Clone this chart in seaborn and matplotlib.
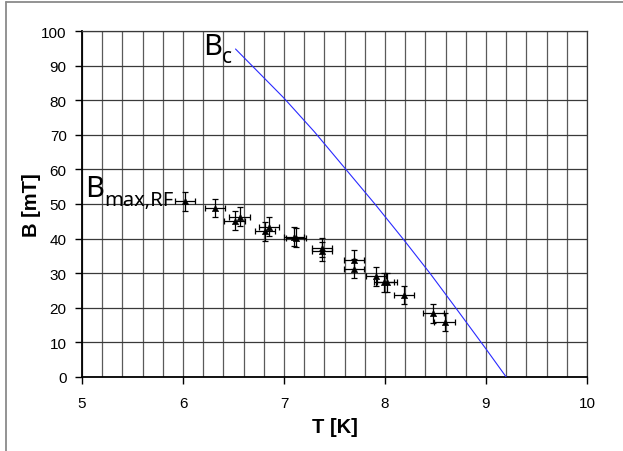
import matplotlib
matplotlib.use("Agg")
import matplotlib.pyplot as plt
import seaborn as sns
import pandas as pd
from matplotlib.lines import Line2D
from matplotlib.ticker import MultipleLocator

# ---- data ----
T_meas = [6.02, 6.32, 6.51, 6.56, 6.81, 6.85, 7.10, 7.12, 7.38, 7.38,
          7.69, 7.69, 7.91, 7.99, 8.02, 8.19, 8.48, 8.59]
B_meas = [50.8, 48.8, 45.2, 46.3, 42.1, 43.4, 40.6, 40.3, 37.4, 36.3,
          33.9, 31.3, 29.1, 27.4, 27.4, 23.7, 18.4, 15.9]
T_err = [0.1] * len(T_meas)
B_err = [2.7] * len(B_meas)

T_bc = [6.52, 7.00, 7.30, 7.59, 7.90, 8.19, 8.45, 8.71, 9.00, 9.20]
B_bc = [94.8, 80.6, 70.9, 60.8, 50.0, 39.5, 29.8, 19.6, 8.1, 0.0]

x_ticks = [5, 6, 7, 8, 9, 10]
y_ticks = [0, 10, 20, 30, 40, 50, 60, 70, 80, 90, 100]

sns.set_theme(style="white")
plt.rcParams['font.family'] = ['Liberation Sans', 'DejaVu Sans']
plt.rcParams['text.color'] = 'black'
plt.rcParams['axes.labelcolor'] = 'black'

fig = plt.figure(figsize=(6.23, 4.52), dpi=100)
ax = fig.add_axes([82/623, 1-378/452, (587-82)/623, (378-32)/452])

ax.set_xlim(5, 10)
ax.set_ylim(0, 100)

# grid
ax.xaxis.set_major_locator(MultipleLocator(1))
ax.xaxis.set_minor_locator(MultipleLocator(0.2))
ax.yaxis.set_major_locator(MultipleLocator(10))
ax.grid(which='both', axis='x', color='#5a5a5a', lw=0.9)
ax.grid(which='major', axis='y', color='#3a3a3a', lw=0.9)
ax.set_axisbelow(True)

df = pd.DataFrame({'T': T_meas, 'B': B_meas})
ax.errorbar(T_meas, B_meas, xerr=T_err, yerr=B_err, fmt='none',
            ecolor='black', elinewidth=0.9, capsize=2.2, capthick=0.9, zorder=3)
sns.scatterplot(data=df, x='T', y='B', marker='^', color='black', s=22,
                edgecolor='black', linewidth=0.3, ax=ax, zorder=4)

dfb = pd.DataFrame({'T': T_bc, 'B': B_bc})
sns.lineplot(data=dfb, x='T', y='B', color='#2a2aff', lw=0.8, sort=False, ax=ax, zorder=5)

ax.set_xticks(x_ticks)
ax.set_yticks(y_ticks)
ax.set_xticklabels([str(v) for v in x_ticks], fontsize=11)
ax.set_yticklabels([str(v) for v in y_ticks], fontsize=11)
ax.tick_params(axis='both', which='major', direction='out', length=5, width=1,
               color='black', labelcolor='black', bottom=True, left=True)
ax.tick_params(axis='y', which='major', pad=6)
ax.tick_params(axis='x', which='major', pad=9)
ax.tick_params(axis='x', which='minor', length=0)

for s in ['left', 'bottom']:
    ax.spines[s].set_color('black')
    ax.spines[s].set_linewidth(1.3)
for s in ['top', 'right']:
    ax.spines[s].set_color('#3a3a3a')
    ax.spines[s].set_linewidth(0.9)

ax.set_xlabel('T [K]', fontsize=14.5, fontweight='bold', labelpad=5, color='black')
ax.set_ylabel('B [mT]', fontsize=14.5, fontweight='bold', labelpad=0, color='black')

# annotations
cal = ['Noto Sans', 'DejaVu Sans']
ax.text(6.20, 93.3, 'B', fontsize=21, family=cal, va='baseline', ha='left',
        color='black', zorder=6)
ax.text(6.38, 91.0, 'c', fontsize=15, family=cal, va='baseline', ha='left',
        color='black', zorder=6)
ax.text(5.03, 52.3, 'B', fontsize=21, family=cal, va='baseline', ha='left',
        color='black', zorder=6)
ax.text(5.22, 49.8, 'max,RF', fontsize=14.5, family=cal, va='baseline', ha='left',
        color='black', zorder=6)

# figure frame (left & top)
fig.add_artist(Line2D([6/623, 6/623], [0, 1-3/452], transform=fig.transFigure,
                      color='#8a8a8a', lw=1.3))
fig.add_artist(Line2D([6/623, 1], [1-3/452, 1-3/452], transform=fig.transFigure,
                      color='#8a8a8a', lw=1.3))

fig.savefig('out.png', dpi=100)
